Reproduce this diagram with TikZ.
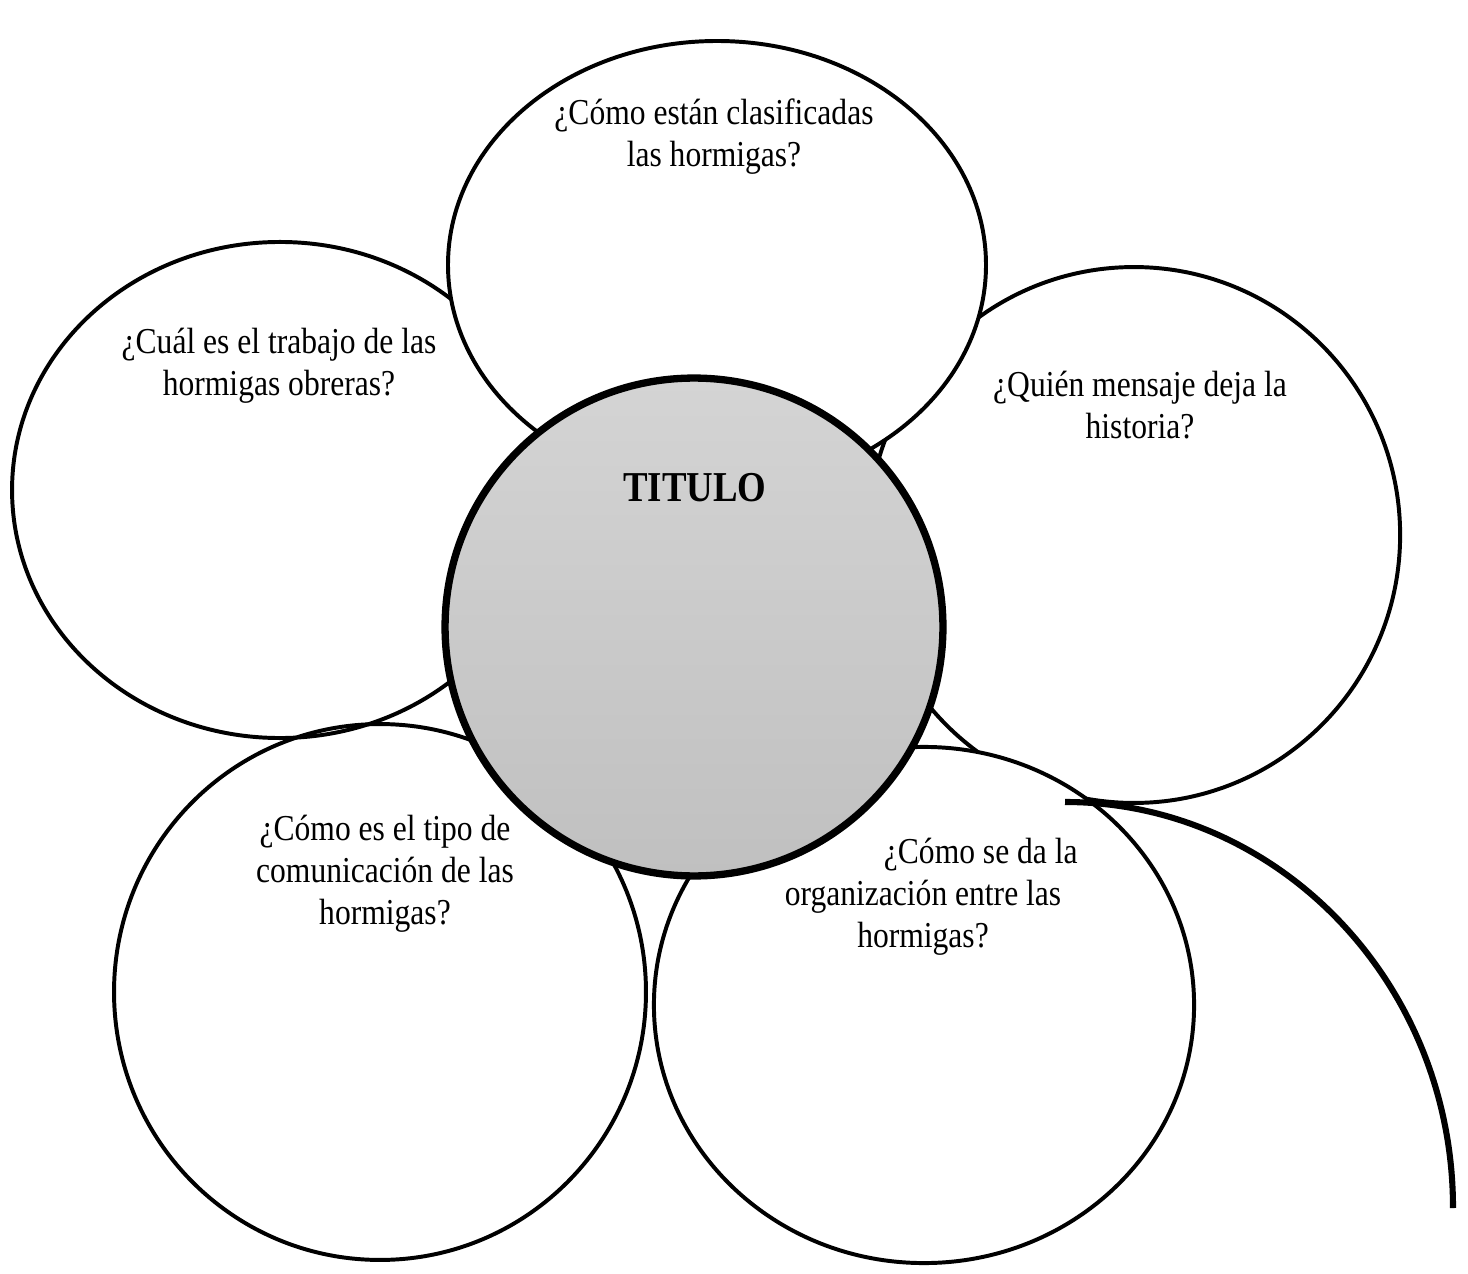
\documentclass[tikz,border=0pt]{standalone}
\usepackage{fontspec}
\setmainfont{Liberation Serif}[FakeStretch=0.865]
\usetikzlibrary{shapes.geometric}
\definecolor{discTop}{RGB}{212,212,212}
\definecolor{discBot}{RGB}{192,192,192}

\begin{document}
\begin{tikzpicture}[x=0.3288pt, y=-0.3288pt,
    petal/.style={draw, ellipse, line width=1.3pt, inner sep=0pt},
    disc/.style={draw, circle, line width=2.4pt, inner sep=0pt, top color=discTop, bottom color=discBot},
    question/.style={align=center, inner sep=0pt, font=\fontsize{12}{13.8}\selectfont}]

  \useasboundingbox (0,0) rectangle (1468,1274);

  % petals, back to front
  \node[petal, fill=white, minimum width=176.2pt, minimum height=163.1pt] (trabajo) at (280,490) {};
  \node[petal, minimum width=174.9pt, minimum height=176.2pt] (comunic) at (380,992) {};
  \node[petal, fill=white, minimum width=175.0pt, minimum height=176.2pt] (mensaje) at (1134,535) {};
  \node[petal, fill=white, minimum width=177.6pt, minimum height=169.7pt] (organiz) at (924,1005) {};
  \node[petal, fill=white, minimum width=176.9pt, minimum height=147.3pt] (clasif) at (717,265) {};

  % centre
  \node[disc, minimum size=163.7pt] (centro) at (694,627) {};
  \node[font=\fontsize{14}{16}\selectfont\bfseries, inner sep=0pt, anchor=base] (titulo) at (695,501) {TITULO};

  % questions
  \node[question] (qClasif) at (714,137) {¿Cómo están clasificadas\\las hormigas?};
  \node[question] (qTrabajo) at (279,366) {¿Cuál es el trabajo de las\\hormigas obreras?};
  \node[question] (qMensaje) at (1140,405) {¿Quién mensaje deja la\\historia?};
  \node[question] (qComunic) at (385,874) {¿Cómo es el tipo de\\comunicación de las\\hormigas?};
  \node[question] (qOrganiz) at (923,897) {\hspace*{38pt}¿Cómo se da la\\organización entre las\\hormigas?};

  % stem
  \coordinate (tallo) at (1065,802);
  \draw[line width=2pt] (tallo) arc[start angle=-90, end angle=0, x radius=388, y radius=406];
\end{tikzpicture}
\end{document}
